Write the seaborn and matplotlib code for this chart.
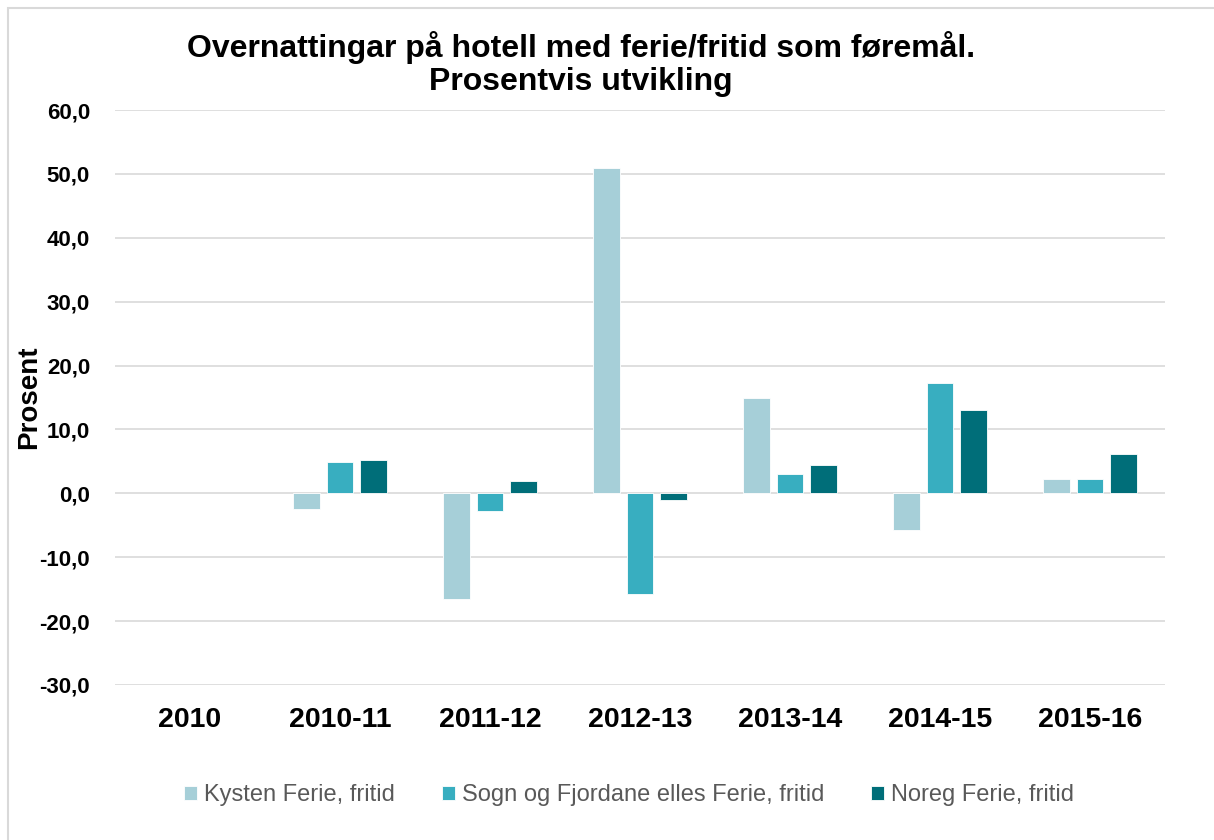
import numpy as np
import pandas as pd
import matplotlib
matplotlib.use("Agg")
import matplotlib.pyplot as plt
import seaborn as sns
from matplotlib.patches import Rectangle

# Percentage change in hotel overnight stays (holiday/leisure purpose)
periods = ["2010", "2010-11", "2011-12", "2012-13", "2013-14", "2014-15", "2015-16"]
kysten = [np.nan, -2.5, -16.6, 50.9, 14.9, -5.8, 2.2]
sogn = [np.nan, 4.9, -2.7, -15.7, 3.1, 17.3, 2.2]
noreg = [np.nan, 5.2, 1.9, -1.1, 4.5, 13.1, 6.2]

series_names = ["Kysten Ferie, fritid",
                "Sogn og Fjordane elles Ferie, fritid",
                "Noreg Ferie, fritid"]
colors = ["#A6CFD8", "#38AEC0", "#006E79"]

y_ticks = [-30, -20, -10, 0, 10, 20, 30, 40, 50, 60]

df = pd.DataFrame({
    "Periode": periods * 3,
    "Serie": [series_names[0]] * 7 + [series_names[1]] * 7 + [series_names[2]] * 7,
    "Prosent": kysten + sogn + noreg,
})

sns.set_theme(style="white")
plt.rcParams["font.family"] = ["Liberation Sans", "DejaVu Sans"]

fig = plt.figure(figsize=(12.14, 8.4), dpi=100)
ax = fig.add_axes([115 / 1214, 1 - 685 / 840, 1050 / 1214, 575 / 840])

sns.barplot(data=df, x="Periode", y="Prosent", hue="Serie",
            order=periods, hue_order=series_names, palette=colors,
            saturation=1, width=0.67, gap=0.22, errorbar=None, ax=ax,
            edgecolor="white", linewidth=0.6, zorder=3, legend=True)

ax.set_ylim(-30, 60)
ax.set_yticks(y_ticks)
ax.set_yticklabels([f"{v:.1f}".replace(".", ",") for v in y_ticks],
                   fontsize=16, fontweight="bold", color="black")
ax.set_xlim(-0.5, len(periods) - 0.5)
ax.tick_params(axis="x", length=0, pad=16, labelsize=20.5)
ax.tick_params(axis="y", length=0, pad=18)
for lbl in ax.get_xticklabels():
    lbl.set_fontweight("bold")
    lbl.set_color("black")

ax.grid(axis="y", color="#D9D9D9", linewidth=1.2, zorder=0)
ax.grid(axis="x", visible=False)
ax.set_axisbelow(True)
for s in ax.spines.values():
    s.set_visible(False)

ax.set_xlabel("")
ax.set_ylabel("Prosent", fontsize=20, fontweight="bold", color="black")
ax.yaxis.set_label_coords(-0.069, 0.5)

handles, labels = ax.get_legend_handles_labels()
ax.legend(handles, labels, loc="center", bbox_to_anchor=(629 / 1214, 1 - 795 / 840),
          bbox_transform=fig.transFigure, ncol=3, frameon=False,
          fontsize=17, labelcolor="#595959", handlelength=0.55, handleheight=0.55,
          handletextpad=0.3, columnspacing=2.0)

fig.text(581 / 1214, 1 - 48 / 840, "Overnattingar på hotell med ferie/fritid som føremål.",
         ha="center", va="center", fontsize=23, fontweight="bold", color="black")
fig.text(581 / 1214, 1 - 82 / 840, "Prosentvis utvikling",
         ha="center", va="center", fontsize=23, fontweight="bold", color="black")

# Outer chart frame
fig.patches.append(Rectangle((8 / 1214, -0.1), 1.2, 1 - 8 / 840 + 0.1,
                             transform=fig.transFigure, fill=False,
                             edgecolor="#D9D9D9", linewidth=1.5))

fig.savefig("out.png", dpi=100)
